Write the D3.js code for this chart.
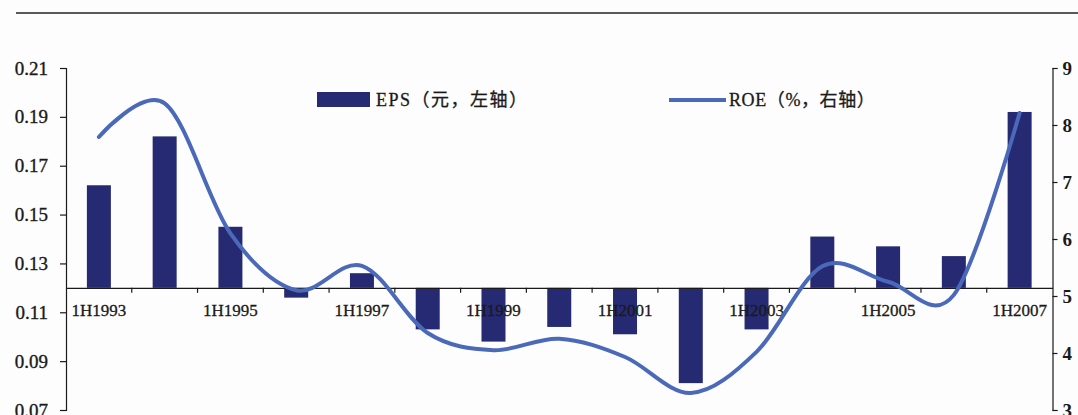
<!DOCTYPE html>
<html>
<head>
<meta charset="utf-8">
<script src="https://cdn.jsdelivr.net/npm/d3@7"></script>
<style>
  html, body { margin: 0; padding: 0; background: #fdfdfd; }
  svg { display: block; }
</style>
</head>
<body>
<svg id="chart" width="1078" height="415"></svg>
<script>
// Half-year periods
const categories = ["1H1993","1H1994","1H1995","1H1996","1H1997","1H1998","1H1999","1H2000",
                    "1H2001","1H2002","1H2003","1H2004","1H2005","1H2006","1H2007"];
// EPS (yuan, left axis)
const eps = [0.162, 0.182, 0.145, 0.116, 0.126, 0.103, 0.098, 0.104,
             0.101, 0.081, 0.103, 0.141, 0.137, 0.133, 0.192];
// ROE (%, right axis)
const roe = [7.79, 8.38, 6.10, 5.10, 5.53, 4.35, 4.05, 4.25,
             3.93, 3.30, 4.02, 5.52, 5.25, 5.02, 8.21];
const leftTicks = [0.07, 0.09, 0.11, 0.13, 0.15, 0.17, 0.19, 0.21];
const rightTicks = [3, 4, 5, 6, 7, 8, 9];
const shownLabels = ["1H1993","1H1995","1H1997","1H1999","1H2001","1H2003","1H2005","1H2007"];
const epsBase = 0.12;
const legendEps = "EPS（元，左轴）";
const legendRoe = "ROE（%，右轴）";

const svg = d3.select("#chart");
const plotLeft = 66, plotRight = 1052.5, plotTop = 68, plotBottom = 410;
const barColor = "#262a72", lineColor = "#4a6ab9", ink = "#1a1a1a";
const serif = "'Liberation Serif', 'Times New Roman', serif";

const x = d3.scaleBand().domain(categories).range([plotLeft, plotRight]).paddingInner(0).paddingOuter(0);
const yL = d3.scaleLinear().domain([0.07, 0.21]).range([plotBottom, plotTop]);
const yR = d3.scaleLinear().domain([3, 9]).range([plotBottom, plotTop]);

// Header rule
svg.append("line").attr("x1", 16).attr("x2", 1078).attr("y1", 13).attr("y2", 13)
  .attr("stroke", "#222").attr("stroke-width", 1.6);

// Bars from the 0.12 baseline
svg.append("g").selectAll("rect").data(eps).join("rect")
  .attr("x", (d, i) => x(categories[i]) + x.bandwidth() / 2 - 12)
  .attr("width", 24)
  .attr("y", d => Math.min(yL(d), yL(epsBase)))
  .attr("height", d => Math.abs(yL(d) - yL(epsBase)))
  .attr("fill", barColor);

// Slightly heavier text rendering
function heavy(sel, w) {
  sel.attr("stroke", ink).attr("stroke-width", w).attr("paint-order", "stroke");
}

// Left axis
const gL = svg.append("g").attr("transform", `translate(${plotLeft},0)`)
  .call(d3.axisLeft(yL).tickValues(leftTicks).tickFormat(d3.format(".2f")).tickSize(6).tickPadding(12));
gL.select(".domain").attr("stroke", ink).attr("stroke-width", 1.2);
gL.selectAll(".tick line").attr("stroke", ink).attr("stroke-width", 1.2);
gL.selectAll("text").attr("font-family", serif).attr("font-size", 19).attr("fill", ink).call(heavy, 0.35);

// Right axis
const gR = svg.append("g").attr("transform", `translate(${plotRight},0)`)
  .call(d3.axisRight(yR).tickValues(rightTicks).tickFormat(d3.format("d")).tickSize(5).tickPadding(5));
gR.select(".domain").attr("stroke", ink).attr("stroke-width", 1.2);
gR.selectAll(".tick line").attr("stroke", ink).attr("stroke-width", 1.2);
gR.selectAll("text").attr("font-family", serif).attr("font-size", 19).attr("font-weight", "bold").attr("fill", ink);

// Category axis crossing at the 0.12 baseline
const axisY = yL(epsBase);
const gX = svg.append("g").attr("transform", `translate(0,${axisY})`)
  .call(d3.axisBottom(x).tickSize(0).tickPadding(16)
    .tickFormat(d => shownLabels.includes(d) ? d : ""));
gX.select(".domain").attr("stroke", ink).attr("stroke-width", 1.2);
gX.selectAll("text").attr("font-family", serif).attr("font-size", 17).attr("fill", ink).call(heavy, 0.3);
// Boundary tick marks between categories
gX.append("g").selectAll("line").data(categories.slice(1)).join("line")
  .attr("x1", d => x(d)).attr("x2", d => x(d))
  .attr("y1", 0).attr("y2", 5)
  .attr("stroke", ink).attr("stroke-width", 1.2);

// ROE smooth line
const line = d3.line()
  .x((d, i) => x(categories[i]) + x.bandwidth() / 2)
  .y(d => yR(d))
  .curve(d3.curveCardinal.tension(0));
svg.append("path").datum(roe).attr("d", line)
  .attr("fill", "none").attr("stroke", lineColor).attr("stroke-width", 4)
  .attr("stroke-linecap", "round").attr("stroke-linejoin", "round");

// Legend
const legendFont = "'Liberation Serif', 'Noto Sans CJK SC', serif";
svg.append("rect").attr("x", 317).attr("y", 92).attr("width", 53).attr("height", 15).attr("fill", barColor);
svg.append("text").attr("x", 376).attr("y", 106).text(legendEps)
  .attr("font-family", legendFont).attr("font-size", 18).attr("letter-spacing", 1.5)
  .attr("fill", ink).call(heavy, 0.3);
svg.append("line").attr("x1", 669).attr("x2", 726).attr("y1", 100).attr("y2", 100)
  .attr("stroke", lineColor).attr("stroke-width", 4);
svg.append("text").attr("x", 729).attr("y", 106).text(legendRoe)
  .attr("font-family", legendFont).attr("font-size", 18).attr("letter-spacing", 0.6)
  .attr("fill", ink).call(heavy, 0.3);
</script>
</body>
</html>
